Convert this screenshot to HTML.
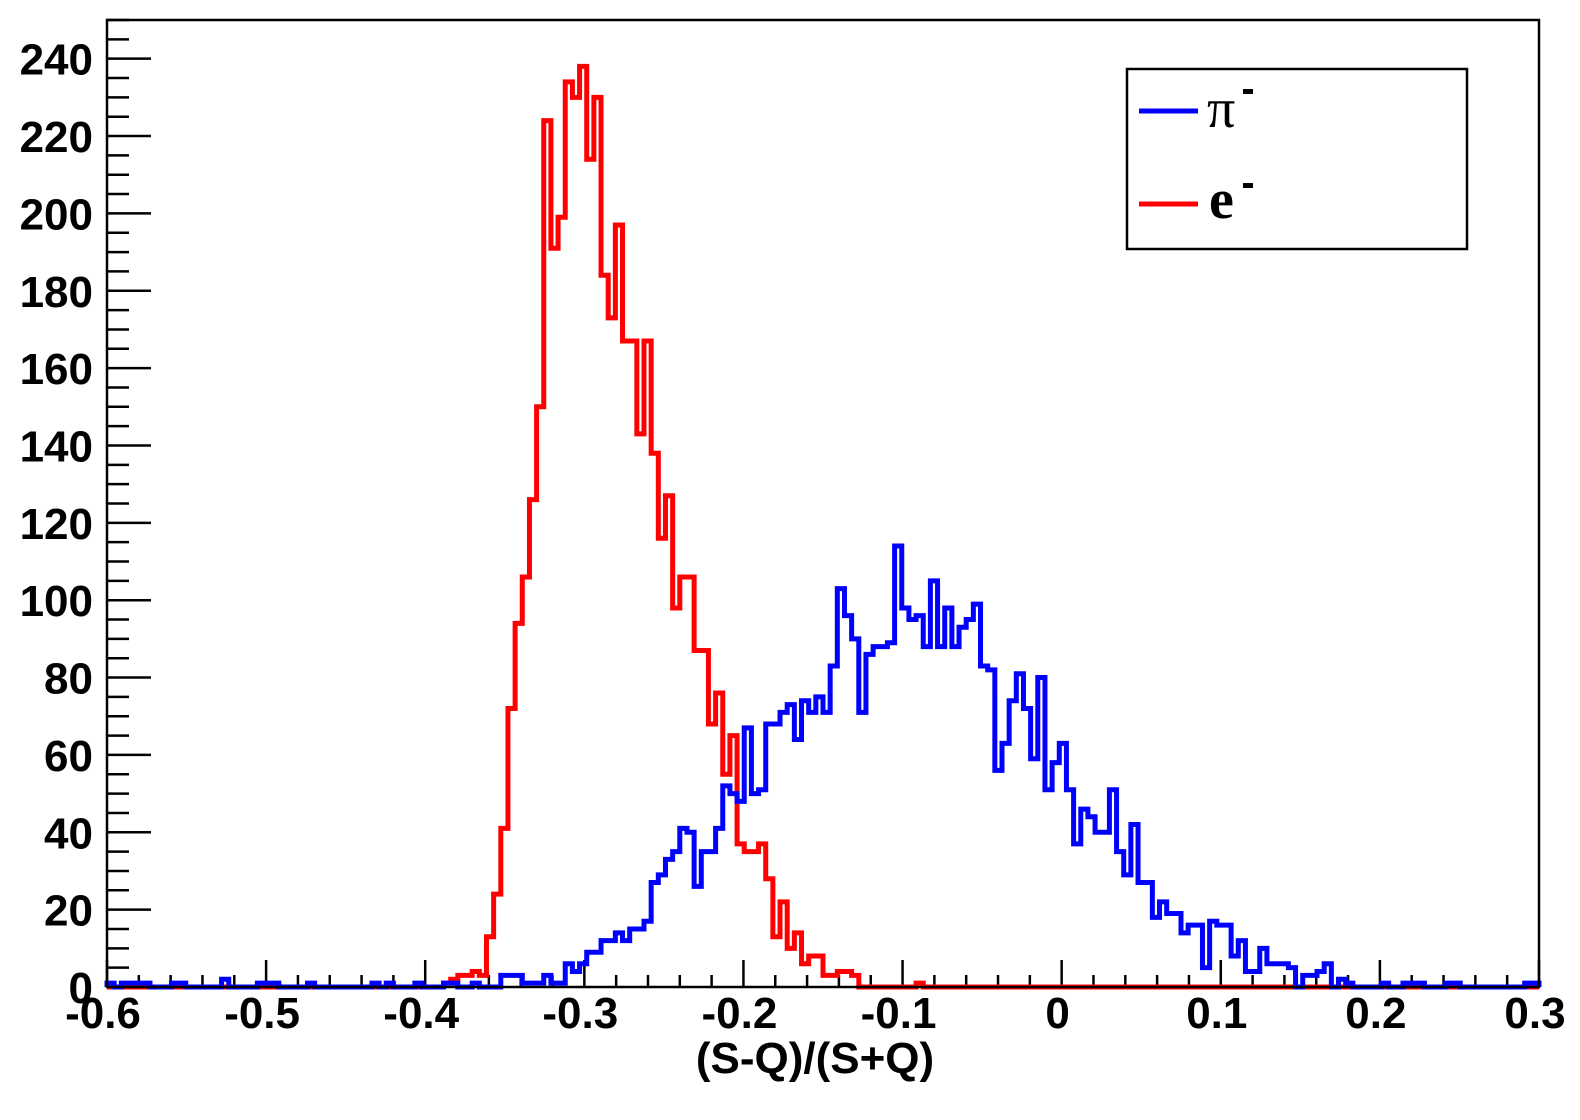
<!DOCTYPE html>
<html><head><meta charset="utf-8"><style>
html,body{margin:0;padding:0;background:#fff;}
svg{display:block;}
text{font-family:"Liberation Sans",Arial,sans-serif;font-weight:bold;fill:#000;}
</style></head><body>
<svg id="chart" width="1580" height="1120" viewBox="0 0 1580 1120" xmlns="http://www.w3.org/2000/svg">
<rect x="0" y="0" width="1580" height="1120" fill="#fff"/>
<g id="ticks"></g>
<g id="labels"></g>
<g id="series"></g>
<rect x="107" y="20" width="1432" height="967" fill="none" stroke="#000" stroke-width="2.5"/>
<text x="815" y="1073" font-size="44" text-anchor="middle">(S-Q)/(S+Q)</text>
<g>
<rect x="1127" y="69" width="340" height="180" fill="#fff" stroke="#000" stroke-width="2.5"/>
<g>
<line x1="1139" y1="111" x2="1198" y2="111" stroke="#0000ff" stroke-width="5"/>
<text x="1207" y="127" font-size="56" style="font-weight:normal;font-family:'Liberation Serif',serif">π</text>
<rect x="1243" y="89" width="10" height="5" fill="#000"/>
</g>
<g>
<line x1="1139" y1="204" x2="1198" y2="204" stroke="#ff0000" stroke-width="5"/>
<text x="1209" y="218" font-size="56" style="font-family:'Liberation Serif',serif">e</text>
<rect x="1243" y="183" width="10" height="5" fill="#000"/>
</g>
</g>
</svg>
<script>
const xMin = -0.6, xMax = 0.3, yMin = 0, yMax = 250;
const binStart = -0.6;
const binWidth = 0.0045;
const xTickLabels = ["-0.6","-0.5","-0.4","-0.3","-0.2","-0.1","0","0.1","0.2","0.3"];
const xTickValues = [-0.6,-0.5,-0.4,-0.3,-0.2,-0.1,0,0.1,0.2,0.3];
const yTickValues = [0,20,40,60,80,100,120,140,160,180,200,220,240];
const yTickLabels = ["0","20","40","60","80","100","120","140","160","180","200","220","240"];
const piCounts = [
1,0,1,1,1,1,0,0,0,1,1,0,0,0,0,0,2,0,0,0,
0,1,1,1,0,0,0,0,1,0,0,0,0,0,0,0,0,1,0,1,
0,0,0,1,0,0,0,1,1,0,0,1,0,0,0,3,3,3,1,1,
1,3,1,1,6,4,6,9,9,12,12,14,12,15,15,17,27,29,33,35,
41,40,26,35,35,41,52,50,48,67,50,51,68,68,71,73,64,74,71,75,
71,83,103,96,90,71,86,88,88,89,114,98,95,96,88,105,88,98,88,93,
95,99,83,82,56,63,74,81,72,59,80,51,58,63,51,37,46,44,40,40,
51,35,29,42,27,27,18,22,19,19,14,16,16,5,17,16,16,8,12,4,
4,10,6,6,6,5,0,3,3,4,6,0,2,1,0,0,0,0,1,0,
0,1,1,1,0,0,0,1,1,0,0,0,0,0,0,0,0,0,1,1];
const eCounts = [
0,0,0,0,0,0,0,0,0,0,0,0,0,0,0,0,0,0,0,0,
0,0,0,0,0,0,0,0,0,0,0,0,0,0,0,0,0,0,0,0,
0,0,0,0,0,0,0,1,2,3,3,4,3,13,24,41,72,94,106,126,
150,224,191,199,234,230,238,214,230,184,173,197,167,167,143,167,138,116,127,98,
106,106,87,87,68,76,55,65,37,35,35,37,28,13,22,10,14,6,8,8,
3,3,4,4,3,0,0,0,0,0,0,0,0,1,0,0,0,0,0,0,
0,0,0,0,0,0,0,0,0,0,0,0,0,0,0,0,0,0,0,0,
0,0,0,0,0,0,0,0,0,0,0,0,0,0,0,0,0,0,0,0,
0,0,0,0,0,0,0,0,0,0,0,0,0,0,0,0,0,0,0,0,
0,0,0,0,0,0,0,0,0,0,0,0,0,0,0,0,0,0,0,0];

const PL = 107, PR = 1539, PT = 20, PB = 987;
function xs(v){ return PL + (v - xMin) / (xMax - xMin) * (PR - PL); }
function ys(v){ return PB - (v - yMin) / (yMax - yMin) * (PB - PT); }
const NS = "http://www.w3.org/2000/svg";
function mk(tag, attrs){ const e = document.createElementNS(NS, tag); for (const k in attrs) e.setAttribute(k, attrs[k]); return e; }

const tg = document.getElementById('ticks');
for (let v = 0; v <= 250; v += 5) {
  const major = v % 20 === 0;
  const t = mk('line', {x1: PL, x2: PL + (major ? 44 : 22), y1: ys(v), y2: ys(v), stroke: '#000', 'stroke-width': 2.5});
  
  
  tg.appendChild(t);
}
for (let k = 0; k <= 45; k++) {
  const v = xMin + k * 0.02;
  const major = k % 5 === 0;
  const t = mk('line', {x1: xs(v), x2: xs(v), y1: PB, y2: PB - (major ? 27 : 12), stroke: '#000', 'stroke-width': 2.5});
  
  
  tg.appendChild(t);
}
const lg = document.getElementById('labels');
yTickValues.forEach((v, i) => {
  const t = mk('text', {x: 93, y: ys(v) + 16, 'font-size': 44, 'text-anchor': 'end'});
  t.textContent = yTickLabels[i];
  
  
  lg.appendChild(t);
});
xTickValues.forEach((v, i) => {
  const t = mk('text', {x: xs(v) - 4, y: 1028, 'font-size': 44, 'text-anchor': 'middle'});
  t.textContent = xTickLabels[i];
  
  
  lg.appendChild(t);
});

function histPath(counts){
  let d = 'M' + xs(binStart).toFixed(2) + ' ' + ys(0).toFixed(2);
  counts.forEach((c, i) => {
    const a = xs(binStart + i * binWidth), b = xs(binStart + (i + 1) * binWidth);
    d += ' L' + a.toFixed(2) + ' ' + ys(c).toFixed(2) + ' L' + b.toFixed(2) + ' ' + ys(c).toFixed(2);
  });
  d += ' L' + xs(binStart + counts.length * binWidth).toFixed(2) + ' ' + ys(0).toFixed(2);
  return d;
}
const sg = document.getElementById('series');
const eP = mk('path', {d: histPath(eCounts), fill: 'none', stroke: '#ff0000', 'stroke-width': 5, 'stroke-linejoin': 'miter'});


sg.appendChild(eP);
const pP = mk('path', {d: histPath(piCounts), fill: 'none', stroke: '#0000ff', 'stroke-width': 5, 'stroke-linejoin': 'miter'});


sg.appendChild(pP);
</script>
</body></html>
